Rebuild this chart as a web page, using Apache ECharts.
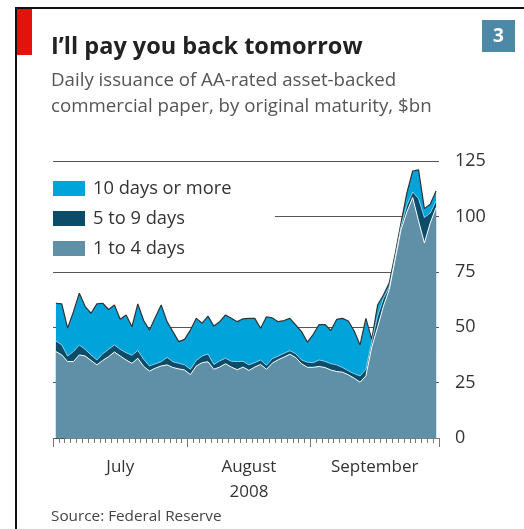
<!DOCTYPE html>
<html><head><meta charset="utf-8">
<script src="https://cdn.jsdelivr.net/npm/echarts@6/dist/echarts.min.js"></script>
<style>html,body{margin:0;padding:0;background:#fff}#c{width:524px;height:529px}</style>
</head><body><div id="c"></div>
<script>
// Daily issuance, $bn, one value per weekday from 1 July to 30 September 2008
const oneToFour = [39,37.5,34.5,34.5,37.5,37,35,33,35,36.7,
  38.8,37,35.2,33.7,36,32.3,30.2,31.5,32.5,33,
  31.8,31.2,30.7,28.6,32.5,34,34.4,31,32,33.5,
  32,30.8,32,30.5,32,33.2,31,33.8,35.3,36.5,
  37.8,36.3,33.5,31.9,31.9,32.3,31.8,30.7,30,29.7,
  28.5,27,25.2,28,41,50,59.5,67,80.5,94,
  102,108.5,98,88,97,104];
const fiveToNine = [4.8,4.5,2.5,4.5,4.5,3,2.5,2.2,3,3.3,
  3.2,3,3.3,3.6,3.5,3.2,2.3,2,1.9,3.4,
  2.6,2.5,2.3,2.4,2.5,3,3.5,2.2,2.8,2.5,
  2.6,3.7,2.6,2.5,2,2,1.8,2,1.7,1.7,
  1.6,1.7,1.7,2.3,2.1,2.9,2.8,2.8,3,2.1,
  1.8,2,2.8,3,2.5,5,3.5,1,1,1.5,
  3,2.5,10,11.5,4.5,3];
const tenOrMore = [17,18.5,12.6,18,23.3,19.3,18.8,25.3,22.8,18,
  18,13.6,17,12.9,21,17.5,16.2,21,25.6,16.1,
  13.6,9.8,11.5,17.7,19,14.8,17.1,17.3,17.7,19.5,
  19.4,18,19.2,21,20,14.3,21.9,18.4,15.5,14.8,
  14.6,13,12.8,9.1,12.8,16,16.6,15,20.5,22.2,
  22.5,19.3,14,23,1,5,1.5,2,1.5,1.5,
  5.5,9.5,13,4,4,4.5];
const seriesNames = ['1 to 4 days', '5 to 9 days', '10 days or more'];
const monthLabels = ['July', 'August', 'September'];
const monthStarts = [0, 23, 44, 66]; // weekday index where each month begins (and end)
const yearLabel = '2008';
const yTicks = [0, 25, 50, 75, 100, 125];

const FONT = "'Open Sans', 'Noto Sans', sans-serif";
const colors = ['#5f90a8', '#0b4d69', '#00a4db'];
const lineColors = ['#ffffff', 'rgba(190,230,248,0.75)', '#333333'];
const values = [oneToFour, fiveToNine, tenOrMore];

// cumulative tops (stacking done here so every layer is filled from zero)
const cumulative = [];
values.forEach((arr, k) => {
  cumulative.push(arr.map((v, i) => (k ? cumulative[k - 1][i] : 0) + v));
});

const monthMids = monthLabels.map((m, i) => (monthStarts[i] + monthStarts[i + 1]) / 2);

const GRID = { left: 53, right: 85, top: 161, bottom: 91 };
const plotHeight = 529 - GRID.top - GRID.bottom;

// draw the top layer first so lower layers paint over it
const series = [2, 1, 0].map(k => ({
  name: seriesNames[k],
  type: 'line',
  symbol: 'none',
  color: colors[k],
  lineStyle: { color: lineColors[k], width: k === 2 ? 1.2 : 1 },
  areaStyle: { color: colors[k], opacity: 1, origin: 'start' },
  data: cumulative[k].map((v, i) => [i + 0.5, v])
}));

const chart = echarts.init(document.getElementById('c'), null, { renderer: 'canvas' });
chart.setOption({
  animation: false,
  backgroundColor: '#ffffff',
  textStyle: { fontFamily: FONT },
  title: [
    { text: "I\u2019ll pay you back tomorrow", left: 51, top: 34, padding: 0,
      textStyle: { fontSize: 23.5, fontWeight: 'bold', color: '#222', fontFamily: FONT, lineHeight: 26 } },
    { text: 'Daily issuance of AA-rated asset-backed\ncommercial paper, by original maturity, $bn', left: 51, top: 68, padding: 0,
      textStyle: { fontSize: 18.7, fontWeight: 'normal', color: '#555', fontFamily: FONT, lineHeight: 26 } },
    { text: 'Source: Federal Reserve', left: 51, top: 508, padding: 0,
      textStyle: { fontSize: 15.3, fontWeight: 'normal', color: '#444', fontFamily: FONT, lineHeight: 18 } }
  ],
  legend: {
    data: ['10 days or more', '5 to 9 days', '1 to 4 days'],
    orient: 'vertical', left: 53, top: 179.5, padding: 0,
    icon: 'rect', itemWidth: 32, itemHeight: 15, itemGap: 12,
    itemStyle: { borderWidth: 0 },
    textStyle: { fontSize: 18.3, color: '#333', fontFamily: FONT, lineHeight: 16, padding: [0, 0, 0, 3] },
    selectedMode: false
  },
  grid: Object.assign({ containLabel: false }, GRID),
  xAxis: [
    { type: 'value', min: monthStarts[0], max: monthStarts[monthStarts.length - 1], interval: 1, position: 'bottom',
      axisLine: { show: true, onZero: false, lineStyle: { color: '#808080', width: 1 } },
      axisTick: { show: true, length: 5, lineStyle: { color: '#777777', width: 1 } },
      axisLabel: { show: false }, splitLine: { show: false } },
    // month axis: labels between month boundaries, long ticks at boundaries
    { type: 'value', min: monthStarts[0], max: monthStarts[monthStarts.length - 1], position: 'top',
      offset: -plotHeight,
      axisLine: { show: false, onZero: false },
      axisTick: { show: true, inside: true, length: 9, customValues: monthStarts, lineStyle: { color: '#777777', width: 1 } },
      axisLabel: { show: true, inside: true, customValues: monthMids, margin: 17, fontSize: 17, color: '#333', lineHeight: 25,
        verticalAlign: 'top', fontFamily: FONT,
        formatter: function (v) {
          const i = monthMids.findIndex(m => Math.abs(m - v) < 0.01);
          if (i < 0) return '';
          return i === 1 ? monthLabels[i] + '\n' + yearLabel : monthLabels[i];
        } },
      splitLine: { show: false } }
  ],
  yAxis: {
    type: 'value', position: 'right', min: yTicks[0], max: yTicks[yTicks.length - 1], interval: 25,
    axisLine: { show: false },
    axisTick: { show: true, length: 13, lineStyle: { color: '#555' } },
    axisLabel: { margin: 16, fontSize: 18, color: '#333', fontFamily: FONT },
    splitLine: { show: true, lineStyle: { color: '#555', width: 1 } }
  },
  graphic: [
    { type: 'rect', z: 1, shape: { x: 52, y: 168, width: 223, height: 98 }, style: { fill: '#ffffff' } },
    { type: 'rect', z: 10, shape: { x: 15, y: 7, width: 509, height: 2 }, style: { fill: '#111' } },
    { type: 'rect', z: 10, shape: { x: 15, y: 7, width: 2, height: 522 }, style: { fill: '#111' } },
    { type: 'rect', z: 10, shape: { x: 17, y: 9, width: 15, height: 46 }, style: { fill: '#e3120b' } },
    { type: 'rect', z: 10, shape: { x: 482, y: 20, width: 33, height: 32 }, style: { fill: '#4b89a7' } },
    { type: 'text', z: 11, x: 498.5, y: 36.5,
      style: { text: '3', fill: '#ffffff', font: "bold 19px 'Open Sans', sans-serif", align: 'center', verticalAlign: 'middle',
        textAlign: 'center', textVerticalAlign: 'middle' } }
  ],
  series: series
});
</script>
</body></html>
